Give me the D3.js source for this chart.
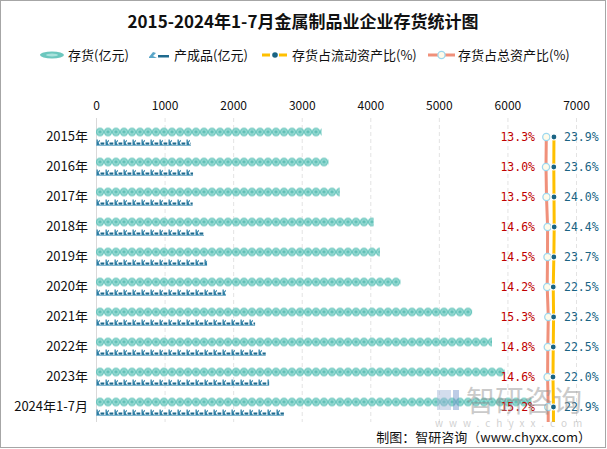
<!DOCTYPE html>
<html>
<head>
<meta charset="utf-8">
<script src="https://cdn.jsdelivr.net/npm/d3@7"></script>
<style>
body{margin:0;background:#fff;}
svg{display:block;font-family:"Noto Sans CJK SC","Noto Sans",sans-serif;}
</style>
</head>
<body>
<svg width="607" height="449"></svg>
<script>
// 数据
var years = ["2015年","2016年","2017年","2018年","2019年","2020年","2021年","2022年","2023年","2024年1-7月"];
var inventory = [3290, 3390, 3555, 4050, 4140, 4440, 5485, 5775, 5960, 6350];   // 存货(亿元)
var finished = [1385, 1415, 1410, 1575, 1620, 1895, 2320, 2475, 2525, 2740];    // 产成品(亿元)
var ratioCurrent = [23.9, 23.6, 24.0, 24.4, 23.7, 22.5, 23.2, 22.5, 22.0, 22.9]; // 存货占流动资产比(%)
var ratioTotal = [13.3, 13.0, 13.5, 14.6, 14.5, 14.2, 15.3, 14.8, 14.6, 15.2];  // 存货占总资产比(%)
var xTicks = [0, 1000, 2000, 3000, 4000, 5000, 6000, 7000];

function draw(){
    var svg = d3.select("svg");

    var x = d3.scaleLinear().domain([0, 7000]).range([96, 576]);
    var y = d3.scaleBand().domain(years).range([122, 422]);
    // 两条比率线各用一个隐藏的轴
    var xT = d3.scaleLinear().domain([0, 100]).range([533, 633]);
    var xC = d3.scaleLinear().domain([0, 100]).range([542, 592]);

    var defs = svg.append("defs");
    var p1 = defs.append("pattern").attr("id", "coin")
        .attr("patternUnits", "userSpaceOnUse").attr("width", 8).attr("height", 9);
    p1.append("circle").attr("cx", 4).attr("cy", 4.5).attr("r", 4.2).attr("fill", "#6cc7be");
    p1.append("circle").attr("cx", 4).attr("cy", 4.5).attr("r", 2.4).attr("fill", "none")
        .attr("stroke", "#a9e2dc").attr("stroke-width", 1);
    p1.append("path").attr("d", "M3,4.5 Q4,3 5,4.5").attr("fill", "none").attr("stroke", "#4fb3aa").attr("stroke-width", 0.8);

    var p2 = defs.append("pattern").attr("id", "fish")
        .attr("patternUnits", "userSpaceOnUse").attr("width", 9).attr("height", 7);
    p2.append("path").attr("d", "M0.5,0.5 L1.8,0.5 L1.8,3 L3.6,0.8 L4,2 L2.6,3.8 L4,6 L0.5,6 Z").attr("fill", "#2c7ea5");
    p2.append("rect").attr("x", 4.5).attr("y", 3.5).attr("width", 3.8).attr("height", 2.2).attr("fill", "#1f6a8e");
    p2.append("rect").attr("x", 0).attr("y", 6).attr("width", 9).attr("height", 1).attr("fill", "#7fb6cf");

    // 外框
    svg.append("rect").attr("x", 0.5).attr("y", 0.5).attr("width", 605).attr("height", 447)
        .attr("fill", "none").attr("stroke", "#a6a6a6");

    // 标题
    svg.append("text").attr("x", 303).attr("y", 28).attr("text-anchor", "middle")
        .attr("font-size", 17).attr("font-weight", "bold").attr("fill", "#111")
        .text("2015-2024年1-7月金属制品业企业存货统计图");

    // 图例
    var lg = svg.append("g").attr("font-size", 13).attr("fill", "#111");
    lg.append("ellipse").attr("cx", 52).attr("cy", 55).attr("rx", 12).attr("ry", 3.5).attr("fill", "#6cc7be");
    lg.append("ellipse").attr("cx", 52).attr("cy", 55).attr("rx", 6).attr("ry", 1.5).attr("fill", "#a9e2dc");
    lg.append("text").attr("x", 68).attr("y", 60).text("存货(亿元)");
    lg.append("path").attr("d", "M149,57 L153,52 L156,53 L153,56 L157,58 L149,58 Z").attr("fill", "#5aa6c8");
    lg.append("rect").attr("x", 158).attr("y", 55).attr("width", 11).attr("height", 2.5).attr("fill", "#1f6a8e");
    lg.append("text").attr("x", 174).attr("y", 60).text("产成品(亿元)");
    lg.append("line").attr("x1", 262).attr("x2", 287).attr("y1", 55).attr("y2", 55)
        .attr("stroke", "#ffc000").attr("stroke-width", 3).attr("stroke-dasharray", "8,4,1,4,8");
    lg.append("circle").attr("cx", 275).attr("cy", 55).attr("r", 2.8).attr("fill", "#1a6484");
    lg.append("text").attr("x", 292).attr("y", 60).text("存货占流动资产比(%)");
    lg.append("line").attr("x1", 428).attr("x2", 455).attr("y1", 55).attr("y2", 55)
        .attr("stroke", "#f0907a").attr("stroke-width", 3);
    lg.append("circle").attr("cx", 441.5).attr("cy", 55).attr("r", 3.6).attr("fill", "#fffbea")
        .attr("stroke", "#9dd8ef").attr("stroke-width", 1.3);
    lg.append("text").attr("x", 458).attr("y", 60).text("存货占总资产比(%)");

    // 网格线和轴
    svg.append("g").selectAll("line").data(xTicks.slice(1)).enter().append("line")
        .attr("x1", function(d){ return x(d) + 0.5; }).attr("x2", function(d){ return x(d) + 0.5; })
        .attr("y1", 118).attr("y2", 422)
        .attr("stroke", "#e3e3e3").attr("stroke-dasharray", "4,3");
    svg.append("line").attr("x1", x(0) + 0.5).attr("x2", x(0) + 0.5).attr("y1", 118).attr("y2", 422)
        .attr("stroke", "#d9d9d9");

    var xa = svg.append("g").attr("transform", "translate(0,114)")
        .call(d3.axisTop(x).tickValues(xTicks).tickSize(0).tickPadding(4).tickFormat(d3.format("d")));
    xa.select(".domain").remove();
    xa.selectAll("text").attr("font-size", 12).attr("fill", "#111")
        .attr("font-family", "'Noto Sans CJK SC',sans-serif");

    var ya = svg.append("g").attr("transform", "translate(88,0)")
        .call(d3.axisLeft(y).tickSize(0).tickPadding(0));
    ya.select(".domain").remove();
    ya.selectAll("text").attr("font-size", 13).attr("fill", "#111")
        .attr("font-family", "'Noto Sans CJK SC',sans-serif");

    // 存货
    svg.append("g").selectAll("g").data(inventory).enter().append("g")
        .attr("transform", function(d, i){ return "translate(" + x(0) + "," + (y(years[i]) + 5.5) + ")"; })
        .append("rect").attr("x", 0).attr("y", 0)
        .attr("width", function(d){ return x(d) - x(0); }).attr("height", 9)
        .attr("fill", "url(#coin)");

    // 产成品
    svg.append("g").selectAll("g").data(finished).enter().append("g")
        .attr("transform", function(d, i){ return "translate(" + x(0) + "," + (y(years[i]) + 17) + ")"; })
        .append("rect").attr("x", 0).attr("y", 0)
        .attr("width", function(d){ return x(d) - x(0); }).attr("height", 7)
        .attr("fill", "url(#fish)");

    // 比率线
    var cy = function(i){ return y(years[i]) + y.bandwidth() / 2; };
    var lineT = ratioTotal.map(function(v, i){ return [xT(v), cy(i)]; });
    lineT.push([xT(ratioTotal[ratioTotal.length - 1]), y.range()[1]]);
    var lineC = ratioCurrent.map(function(v, i){ return [xC(v), cy(i)]; });
    lineC.push([xC(ratioCurrent[ratioCurrent.length - 1]), y.range()[1]]);

    svg.append("path").attr("d", d3.line()(lineT)).attr("fill", "none")
        .attr("stroke", "#f0907a").attr("stroke-width", 3);
    svg.append("path").attr("d", d3.line()(lineC)).attr("fill", "none")
        .attr("stroke", "#ffc000").attr("stroke-width", 3);

    svg.append("g").selectAll("circle").data(ratioTotal).enter().append("circle")
        .attr("cx", function(d){ return xT(d); }).attr("cy", function(d, i){ return cy(i); })
        .attr("r", 3.6).attr("fill", "#fffbea").attr("stroke", "#9dd8ef").attr("stroke-width", 1.3);
    svg.append("g").selectAll("circle").data(ratioCurrent).enter().append("circle")
        .attr("cx", function(d){ return xC(d); }).attr("cy", function(d, i){ return cy(i); })
        .attr("r", 3).attr("fill", "#1a6484").attr("stroke", "#fff").attr("stroke-width", 1.2);

    // 数值标签
    svg.append("g").selectAll("text").data(ratioTotal).enter().append("text")
        .attr("x", 535).attr("y", function(d, i){ return cy(i) + 4; })
        .attr("text-anchor", "end").attr("font-size", 11.5).attr("font-family", "'DejaVu Sans Mono',monospace")
        .attr("fill", "#c00000").text(function(d){ return d.toFixed(1) + "%"; });
    svg.append("g").selectAll("text").data(ratioCurrent).enter().append("text")
        .attr("x", 564).attr("y", function(d, i){ return cy(i) + 4; })
        .attr("font-size", 11.5).attr("font-family", "'DejaVu Sans Mono',monospace")
        .attr("fill", "#1a6484").text(function(d){ return d.toFixed(1) + "%"; });

    // 水印
    var wm = svg.append("g").attr("opacity", 0.45);
    wm.append("rect").attr("x", 437).attr("y", 390).attr("width", 14).attr("height", 20).attr("fill", "#9fb4d8");
    wm.append("rect").attr("x", 453).attr("y", 390).attr("width", 6).attr("height", 20).attr("fill", "#6d8fc8");
    wm.append("text").attr("x", 466).attr("y", 412).attr("font-size", 29).attr("fill", "#8c8c8c").text("智研咨询");
    wm.append("text").attr("x", 435).attr("y", 427).attr("font-size", 10).attr("fill", "#9a9a9a")
        .attr("letter-spacing", 6).text("www.chyxx.com");

    // 制图
    svg.append("text").attr("x", 591).attr("y", 442).attr("text-anchor", "end")
        .attr("font-size", 13).attr("fill", "#111").text("制图：智研咨询（www.chyxx.com）");
}
draw();
</script>
</body>
</html>
